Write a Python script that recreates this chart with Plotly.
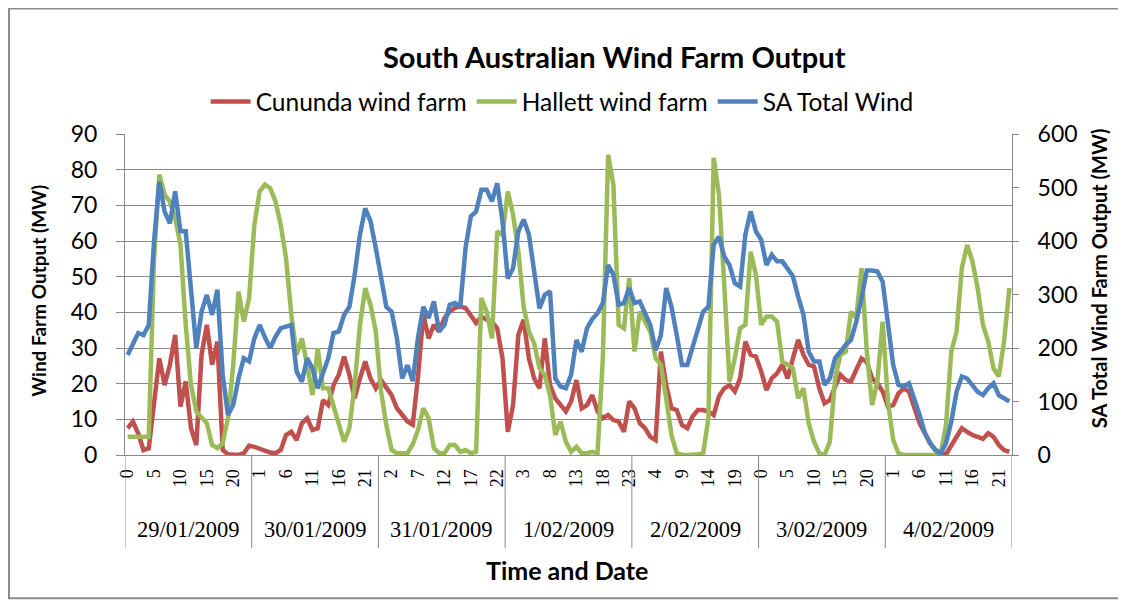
import plotly.graph_objects as go

# ---------------- data ----------------
dates = ["29/01/2009", "30/01/2009", "31/01/2009", "1/02/2009",
         "2/02/2009", "3/02/2009", "4/02/2009"]
hours = list(range(24))

cununda = [7.5, 9.4, 6.1, 1.4, 1.9, 15, 27.1, 19.6, 25.3, 33.7, 13.6, 20.6, 7.5, 2.8, 28.1, 36.5, 25.3, 31.8, 1.4, 0.2, 0, 0, 0.5, 2.6,
           2.3, 1.7, 1.1, 0.7, 0.5, 1.4, 5.6, 6.5, 4.2, 8.9, 10.3, 7, 7.5, 15.4, 14, 19.6, 22.5, 27.6, 22.5, 15.9, 21.5, 26.2, 21.5, 18.7,
           21, 18.7, 16.8, 13.1, 11.2, 9.4, 8.5, 22, 39.3, 32.7, 36.5, 34.6, 38.4, 40.2, 41.3, 41.6, 41.2, 38.8, 37, 38.8, 37.9, 37.4, 35.5, 27.1,
           6.5, 14, 33.7, 37.9, 27.1, 21.5, 18.7, 32.7, 19.6, 15.9, 14, 12.2, 15, 21, 13.1, 14, 16.8, 12.2, 10.3, 11.2, 9.8, 9.4, 6.5, 15,
           13.1, 8.9, 7.5, 5.1, 4.2, 29, 19.6, 13.1, 12.6, 8.4, 7.5, 10.8, 12.6, 12.6, 12.2, 11.2, 16.5, 18.7, 19.6, 17.8, 21.5, 31.8, 28.1, 27.6,
           23.4, 18.2, 21.5, 22.9, 25.3, 21.5, 27.1, 32.3, 28.1, 25.3, 24.8, 18.7, 14.5, 15.4, 19.2, 22.5, 21, 20.6, 23.9, 27.1, 26, 21.5, 20.1, 17.8,
           13.6, 14, 17.3, 18.7, 17.8, 13.1, 8.9, 6.1, 3.3, 1.4, 0.5, 0.2, 2.8, 5.1, 7.5, 6.5, 5.6, 5.1, 4.5, 6.1, 5.1, 2.8, 1.4, 0.9]

hallett = [5.1, 5.1, 5.1, 5.1, 5.1, 55, 78.6, 73, 71, 66.4, 59, 36.5, 19.6, 12.2, 10.3, 8.9, 2.8, 1.9, 3.3, 10.3, 25.3, 45.8, 37.4, 44,
           64.5, 73.9, 75.8, 74.8, 71.1, 64.5, 55.2, 39.3, 28.1, 32.7, 25.3, 16.8, 29.9, 18.7, 18.7, 14, 8.4, 3.7, 7.5, 19.6, 36.5, 46.8, 42.1, 34.6,
           17.8, 8.4, 1.4, 0.5, 0.5, 0.5, 3, 7, 13.1, 10.3, 1.9, 0.5, 0.5, 2.8, 2.8, 0.9, 1.4, 0.5, 0.9, 44, 40.2, 32.7, 62.7, 61.7,
           73.9, 67.4, 57.1, 41.6, 34.6, 31.3, 24.3, 22.5, 16.8, 5.6, 9.4, 3.7, 0.9, 2.3, 0.5, 0.5, 0.9, 0.5, 27.1, 84.2, 75.8, 36.5, 35.5, 49.6,
           29, 40.2, 37.4, 34.6, 27.1, 25.3, 15.9, 5.6, 0.5, 0, 0, 0, 0.2, 0.5, 10.3, 83.3, 73, 47.7, 20.6, 27.1, 35.5, 36.5, 57, 50.5,
           36.5, 38.8, 38.8, 37.4, 26.2, 25.3, 24.3, 15.9, 18.7, 8.9, 3.7, 0.5, 0, 3.7, 21.5, 28.1, 29, 40.2, 38.4, 52.4, 29, 14, 20.6, 37.4,
           15, 4.2, 0.5, 0, 0, 0, 0, 0, 0, 0, 0.5, 8.4, 29, 34.6, 52.4, 58.9, 54.3, 46.8, 36.5, 31.8, 24.3, 22, 31.8, 46.8]

sa_total = [187, 206, 228, 224, 243, 399, 511, 455, 433, 493, 418, 418, 306, 200, 268, 299, 262, 309, 150, 75, 94, 143, 181, 175,
            218, 243, 220, 200, 221, 237, 240, 243, 156, 137, 181, 162, 125, 156, 181, 228, 231, 262, 277, 337, 412, 461, 437, 387,
            330, 277, 268, 218, 143, 168, 138, 220, 277, 256, 287, 231, 243, 281, 284, 277, 387, 446, 455, 496, 496, 474, 508, 437,
            330, 349, 418, 440, 412, 337, 274, 299, 306, 143, 128, 125, 150, 215, 193, 237, 254, 265, 284, 355, 337, 281, 284, 312,
            284, 287, 265, 243, 196, 224, 312, 277, 224, 168, 168, 200, 234, 268, 277, 393, 408, 371, 355, 321, 315, 412, 455, 418,
            402, 355, 374, 362, 362, 349, 334, 296, 262, 193, 175, 175, 131, 143, 181, 193, 206, 215, 249, 293, 345, 345, 343, 324,
            243, 168, 131, 128, 134, 106, 75, 41, 22, 9, 3, 22, 62, 118, 147, 143, 131, 118, 112, 125, 134, 112, 106, 100]

# category structure (date, hour) and label lists
cat_hours = [h for d in dates for h in hours]
idx = list(range(len(cat_hours)))
tick_idx = idx[::5]
tick_txt = [str(cat_hours[i]) for i in tick_idx]

RED, GREEN, BLUE = "#C0504D", "#9BBB59", "#4F81BD"
GRID = "#888888"
SANS = "Lato"
SERIF = "Liberation Serif"

fig = go.Figure()
fig.add_trace(go.Scatter(x=idx, y=cununda, name="Cununda wind farm", mode="lines",
                         line=dict(color=RED, width=4.5)))
fig.add_trace(go.Scatter(x=idx, y=hallett, name="Hallett wind farm", mode="lines",
                         line=dict(color=GREEN, width=4.5)))
fig.add_trace(go.Scatter(x=idx, y=sa_total, name="SA Total Wind", mode="lines",
                         line=dict(color=BLUE, width=4.5), yaxis="y2"))

# the page body adds an 8px offset; work in reference pixels shifted by OFF
OFF = 8
W, H = 1126 - OFF, 601 - OFF
L, R, T, B = 125 - OFF, 1011.7 - OFF, 134.3 - OFF, 455 - OFF
pw, ph = R - L, B - T

def py(ypix):
    return (B - (ypix - OFF)) / ph

def px(xpix):
    return ((xpix - OFF) - L) / pw

shapes = []
n_days = len(dates)
for d in range(n_days + 1):
    shapes.append(dict(type="line", xref="x", yref="paper",
                       x0=d * 24 - 0.5, x1=d * 24 - 0.5, y0=0, y1=py(548),
                       line=dict(color=GRID, width=1)))
# outer chart border
shapes.append(dict(type="rect", xref="paper", yref="paper",
                   x0=px(9), x1=px(1123), y0=py(598), y1=py(9),
                   line=dict(color="#8a8a8a", width=2)))

annotations = []
for d, lab in enumerate(dates):
    annotations.append(dict(x=d * 24 + 11.5, y=py(529), xref="x", yref="paper",
                            text=lab, showarrow=False, xanchor="center", yanchor="middle",
                            font=dict(family=SERIF, size=22.5, color="#000000")))
annotations.append(dict(x=px(567), y=py(570), xref="paper", yref="paper",
                        text="<b>Time and Date</b>", showarrow=False,
                        xanchor="center", yanchor="middle",
                        font=dict(family=SANS, size=25, color="#000000")))
annotations.append(dict(x=px(39), y=py(291), xref="paper", yref="paper",
                        text="<b>Wind Farm Output (MW)</b>", showarrow=False, textangle=-90,
                        xanchor="center", yanchor="middle",
                        font=dict(family=SANS, size=19, color="#000000")))
annotations.append(dict(x=px(1099), y=py(278), xref="paper", yref="paper",
                        text="<b>SA Total Wind Farm Output (MW)</b>", showarrow=False, textangle=-90,
                        xanchor="center", yanchor="middle",
                        font=dict(family=SANS, size=20, color="#000000")))

fig.update_layout(
    width=W, height=H, autosize=False,
    margin=dict(l=L, r=W - R, t=T, b=H - B, pad=0),
    paper_bgcolor="white", plot_bgcolor="white",
    title=dict(text="<b>South Australian Wind Farm Output</b>",
               x=px(614), xref="paper", xanchor="center",
               y=1 - (58 - OFF) / H, yref="container", yanchor="middle",
               font=dict(family=SANS, size=29, color="#000000")),
    legend=dict(orientation="h", x=px(562), xanchor="center", y=py(102), yanchor="middle",
                xref="paper", yref="paper",
                font=dict(family=SANS, size=24.5, color="#000000"),
                bgcolor="rgba(0,0,0,0)", itemwidth=40, tracegroupgap=0),
    xaxis=dict(range=[-0.5, len(idx) - 0.5], tickmode="array", tickvals=tick_idx, ticktext=tick_txt,
               tickangle=-90, ticks="", showgrid=False, zeroline=False,
               showline=True, linecolor=GRID, linewidth=1,
               tickfont=dict(family=SERIF, size=18, color="#000000"),
               ticklabelstandoff=6),
    yaxis=dict(range=[0, 90], dtick=10, showgrid=True, gridcolor=GRID, gridwidth=1,
               zeroline=False, showline=True, linecolor=GRID, linewidth=1,
               ticks="outside", ticklen=8, tickcolor=GRID,
               tickfont=dict(family=SANS, size=23, color="#000000"),
               ticklabelstandoff=14),
    yaxis2=dict(range=[0, 600], dtick=100, overlaying="y", side="right", showgrid=False,
                zeroline=False, showline=True, linecolor=GRID, linewidth=1,
                ticks="outside", ticklen=6, tickcolor=GRID,
                tickfont=dict(family=SANS, size=23, color="#000000"),
                ticklabelstandoff=14),
    shapes=shapes, annotations=annotations,
    showlegend=True,
)

fig.write_html("out.html")
